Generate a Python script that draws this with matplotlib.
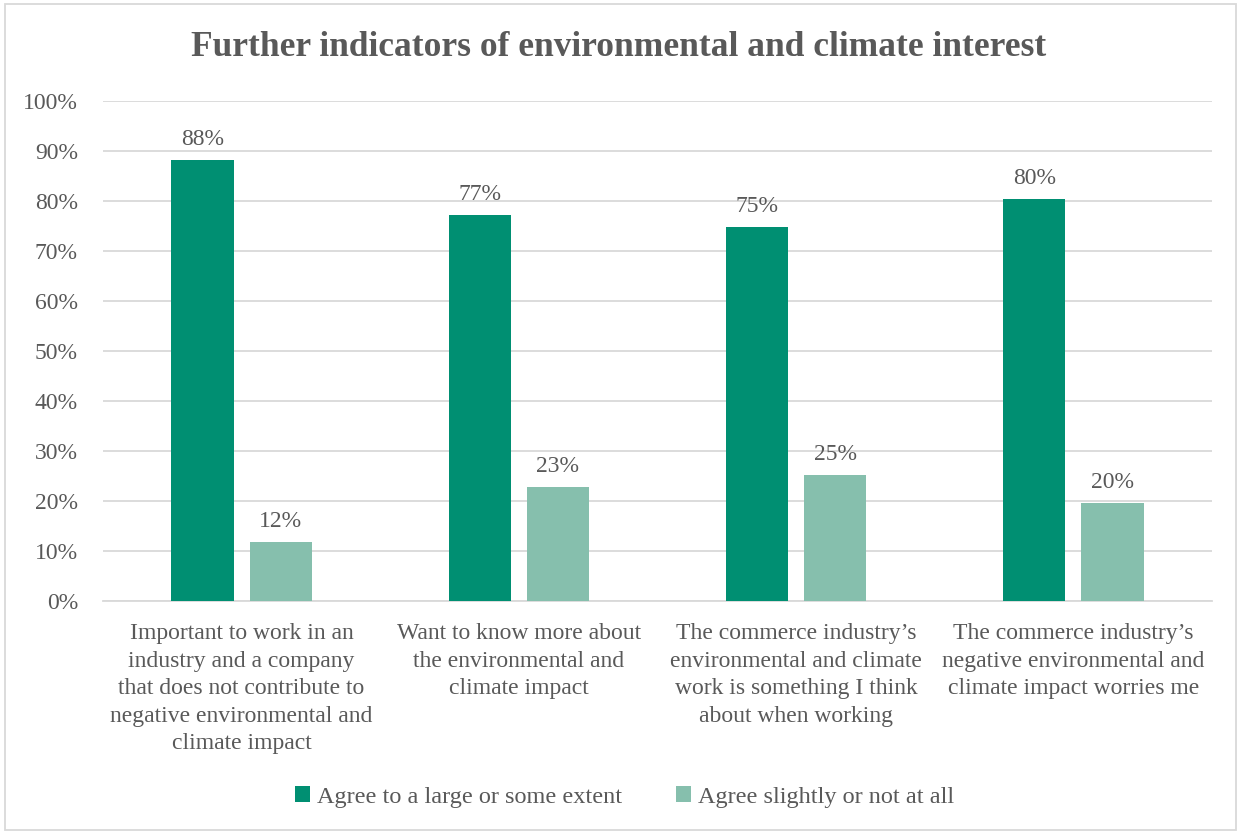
import numpy as np
import matplotlib.pyplot as plt
from matplotlib.patches import Rectangle

plt.rcParams['font.family'] = ['Liberation Serif', 'DejaVu Serif']

categories = [
    "Important to work in an\nindustry and a company\nthat does not contribute to\nnegative environmental and\nclimate impact",
    "Want to know more about\nthe environmental and\nclimate impact",
    "The commerce industry\u2019s\nenvironmental and climate\nwork is something I think\nabout when working",
    "The commerce industry\u2019s\nnegative environmental and\nclimate impact worries me",
]
agree_large = [88.2, 77.2, 74.8, 80.4]
agree_slight = [11.8, 22.8, 25.2, 19.6]
series_names = ["Agree to a large or some extent", "Agree slightly or not at all"]

dark = "#008F72"
light = "#86BFAD"
text_col = "#595959"

fig = plt.figure(figsize=(12.37, 8.34), dpi=100)
ax = fig.add_axes([103 / 1237, 1 - 601 / 834, (1212 - 103) / 1237, 500 / 834])

x = np.arange(len(categories))
w = 0.224
off = 0.141
b1 = ax.bar(x - off, agree_large, w, color=dark, label=series_names[0], zorder=3)
b2 = ax.bar(x + off, agree_slight, w, color=light, label=series_names[1], zorder=3)

for bars, vals in ((b1, agree_large), (b2, agree_slight)):
    for r, v in zip(bars, vals):
        ax.text(r.get_x() + r.get_width() / 2, v + 2.0, f"{round(v)}%",
                ha='center', va='bottom', fontsize=17, color=text_col)

ax.set_xlim(-0.5, len(categories) - 0.5)
ax.set_ylim(0, 100)
ax.set_yticks(range(0, 101, 10))
ax.set_yticklabels([f"{t}%" for t in range(0, 101, 10)])
ax.yaxis.grid(True, color="#D9D9D9", linewidth=1.3, zorder=0)
ax.set_axisbelow(True)
for s in ['top', 'right', 'left']:
    ax.spines[s].set_visible(False)
ax.spines['bottom'].set_color("#D9D9D9")
ax.spines['bottom'].set_linewidth(1.3)
ax.tick_params(axis='y', length=0, labelsize=17, labelcolor=text_col, pad=18)
ax.tick_params(axis='x', length=0, pad=16)
ax.set_xticks(x)
ax.set_xticklabels(categories, fontsize=17, color=text_col, linespacing=1.41, va='top')

fig.text(0.5, 1 - 47 / 834, "Further indicators of environmental and climate interest",
         ha='center', va='center', fontsize=25.5, fontweight='bold', color=text_col)

leg = fig.legend(handles=[b1, b2], loc='center', bbox_to_anchor=(0.505, 1 - 797 / 834),
                 ncol=2, frameon=False, fontsize=17.5, handlelength=0.6, handleheight=0.6,
                 handletextpad=0.3, columnspacing=2.2)
for t in leg.get_texts():
    t.set_color(text_col)

fig.patches.append(Rectangle((5 / 1237, 4 / 834), 1 - 6 / 1237, 1 - 8 / 834,
                             transform=fig.transFigure, fill=False,
                             edgecolor="#D9D9D9", linewidth=1.3))

fig.savefig("out.png", dpi=100)
